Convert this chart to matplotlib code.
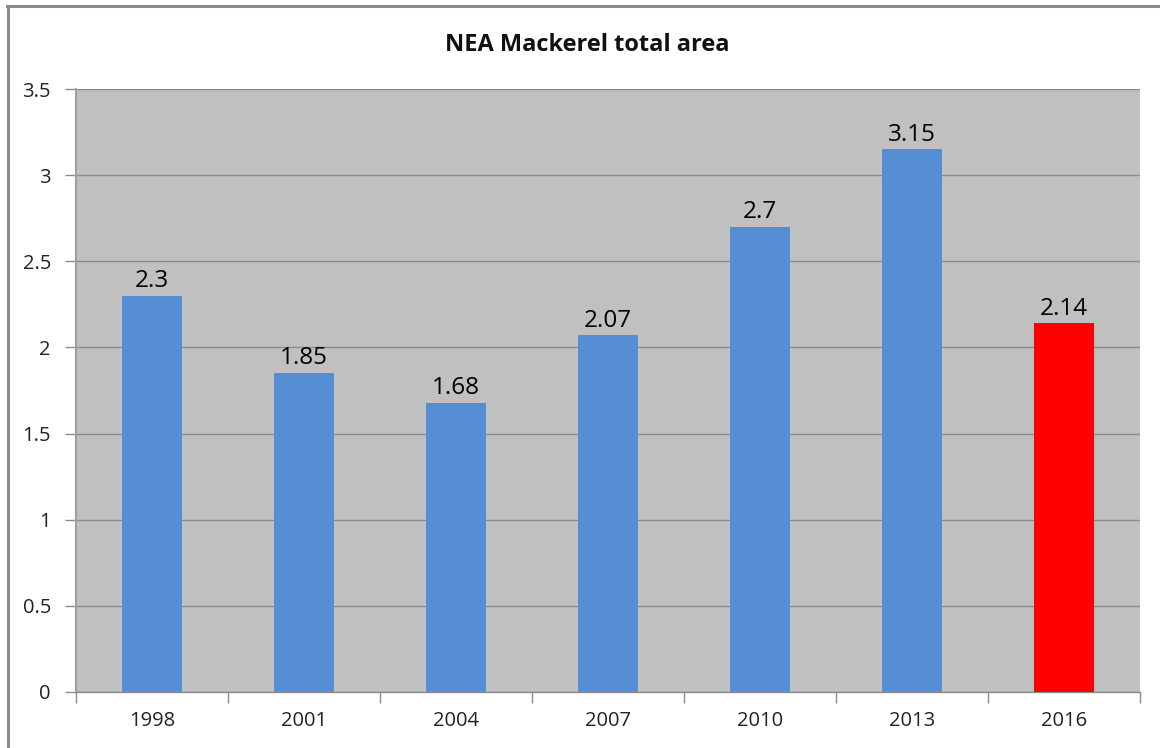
import matplotlib
matplotlib.use("Agg")
import matplotlib.pyplot as plt
from matplotlib.lines import Line2D
import numpy as np

# ── Data ──────────────────────────────────────────────────────────────────────
years = ["1998", "2001", "2004", "2007", "2010", "2013", "2016"]
area = [2.3, 1.85, 1.68, 2.07, 2.7, 3.15, 2.14]
bar_colors = ["#558ED5"] * 6 + ["#FF0000"]
value_labels = ["2.3", "1.85", "1.68", "2.07", "2.7", "3.15", "2.14"]
yticks = [0, 0.5, 1, 1.5, 2, 2.5, 3, 3.5]
ytick_labels = ["0", "0.5", "1", "1.5", "2", "2.5", "3", "3.5"]

plt.rcParams["font.family"] = ["Open Sans", "DejaVu Sans"]

fig = plt.figure(figsize=(11.6, 7.48), dpi=100)
ax = fig.add_axes([0.0655, 0.0749, 0.9173, 0.8061])
ax.set_facecolor("#C0C0C0")

x = np.arange(len(years))
ax.bar(x, area, width=0.39, color=bar_colors, zorder=3)

for xi, val, lbl in zip(x, area, value_labels):
    ax.annotate(lbl, (xi, val), xytext=(0, 2), textcoords="offset points",
                ha="center", va="bottom", fontsize=17.5, color="#000000", zorder=4)

ax.set_xlim(-0.5, len(years) - 0.5)
ax.set_ylim(0, 3.5)
ax.set_yticks(yticks)
ax.set_yticklabels(ytick_labels, fontsize=14.5, color="#222222")
ax.set_xticks(x)
ax.set_xticklabels(years, fontsize=14.5, color="#222222")
ax.tick_params(axis="x", length=0, pad=14)
ax.tick_params(axis="y", length=8, width=1, color="#8C8C8C", pad=10)

# category boundary ticks on the x axis
ax.set_xticks(np.arange(-0.5, len(years)), minor=True)
ax.tick_params(axis="x", which="minor", length=8, width=1, color="#8C8C8C")

ax.grid(axis="y", color="#8C8C8C", linewidth=1.0, zorder=1)
ax.set_axisbelow(True)

for side in ["top", "right"]:
    ax.spines[side].set_visible(False)
ax.spines["left"].set_color("#A0A0A0")
ax.spines["bottom"].set_color("#8C8C8C")
ax.spines["left"].set_linewidth(1.5)
ax.spines["bottom"].set_linewidth(1.0)

fig.text(0.506, 0.94, "NEA Mackerel total area", ha="center", va="center",
         fontsize=17, fontweight="bold", color="#111111")

# chart frame (top and left edges)
fig.add_artist(Line2D([0.006, 1.0], [0.9925, 0.9925], transform=fig.transFigure,
                      color="#8C8C8C", linewidth=2.2))
fig.add_artist(Line2D([0.0065, 0.0065], [0.0, 0.9925], transform=fig.transFigure,
                      color="#8C8C8C", linewidth=2.2))

fig.savefig("out.png", dpi=100)
